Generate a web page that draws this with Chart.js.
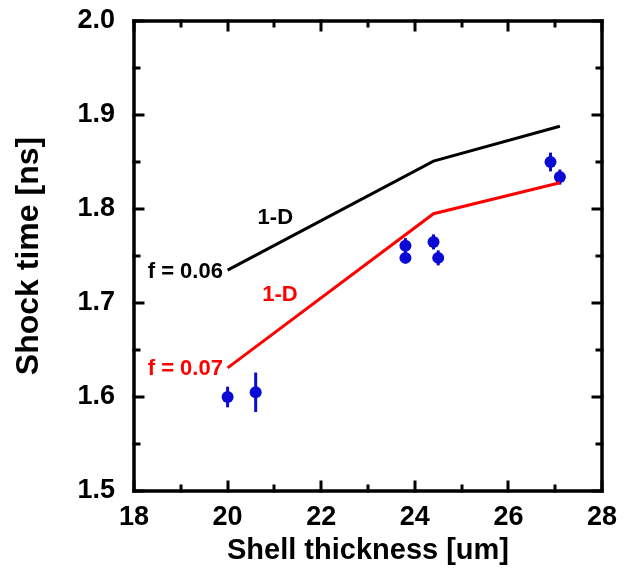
<!DOCTYPE html>
<html>
<head>
<meta charset="utf-8">
<script src="https://cdn.jsdelivr.net/npm/chart.js@4.4.0/dist/chart.umd.min.js"></script>
<style>
  html, body { margin: 0; padding: 0; background: #fff; }
  #chart { display: block; }
</style>
</head>
<body>
<canvas id="chart" width="626" height="577"></canvas>
<script>
// measured shock times
const thickness = [20.0, 20.6, 23.8, 23.8, 24.4, 24.5, 26.9, 27.1];
const shockTime = [1.600, 1.605, 1.761, 1.748, 1.765, 1.748, 1.850, 1.834];
const shockErr = [0.011, 0.021, 0.008, 0.005, 0.008, 0.008, 0.010, 0.008];

// 1-D simulations
const modelThickness = [20.0, 24.4, 27.1];
const model006 = [1.735, 1.851, 1.888];
const model007 = [1.631, 1.795, 1.828];

const xTicks = [18, 20, 22, 24, 26, 28];
const yTicks = [1.5, 1.6, 1.7, 1.8, 1.9, 2.0];

const FONT = '"Liberation Sans", Arial, sans-serif';
const BLUE = '#0a0ad4';

const toPts = (xs, ys) => xs.map((x, i) => ({ x: x, y: ys[i] }));

// error bars, drawn under the markers
const errorBars = {
  id: 'errorBars',
  beforeDatasetsDraw(chart) {
    const { ctx, scales: { x, y } } = chart;
    ctx.save();
    ctx.strokeStyle = BLUE;
    ctx.lineWidth = 3;
    thickness.forEach((t, i) => {
      const px = x.getPixelForValue(t);
      ctx.beginPath();
      ctx.moveTo(px, y.getPixelForValue(shockTime[i] - shockErr[i]));
      ctx.lineTo(px, y.getPixelForValue(shockTime[i] + shockErr[i]));
      ctx.stroke();
    });
    ctx.restore();
  }
};

// box frame with inward ticks on every side, plus text labels
const frame = {
  id: 'frame',
  afterDraw(chart) {
    const { ctx, chartArea: a, scales: { x, y } } = chart;
    ctx.save();
    ctx.strokeStyle = '#000';
    ctx.lineWidth = 3;
    ctx.lineCap = 'square';
    for (let v = 18; v <= 28; v += 1) {
      const px = Math.round(x.getPixelForValue(v));
      const len = v % 2 === 0 ? 9 : 5;
      ctx.beginPath();
      ctx.moveTo(px, a.bottom); ctx.lineTo(px, a.bottom - len);
      ctx.moveTo(px, a.top); ctx.lineTo(px, a.top + len);
      ctx.stroke();
    }
    for (let k = 0; k <= 10; k++) {
      const v = 1.5 + k * 0.05;
      const py = Math.round(y.getPixelForValue(v));
      const len = k % 2 === 0 ? 9 : 5;
      ctx.beginPath();
      ctx.moveTo(a.left, py); ctx.lineTo(a.left + len, py);
      ctx.moveTo(a.right, py); ctx.lineTo(a.right - len, py);
      ctx.stroke();
    }
    ctx.lineWidth = 3.5;
    ctx.strokeRect(a.left, a.top, a.right - a.left, a.bottom - a.top);

    const labels = [
      { text: '1-D', x: 21.02, y: 1.791, color: '#000', align: 'center' },
      { text: 'f = 0.06', x: 19.9, y: 1.733, color: '#000', align: 'right' },
      { text: '1-D', x: 21.12, y: 1.709, color: '#ff0000', align: 'center' },
      { text: 'f = 0.07', x: 19.9, y: 1.630, color: '#ff0000', align: 'right' }
    ];
    ctx.font = 'bold 22px ' + FONT;
    ctx.textBaseline = 'middle';
    labels.forEach(l => {
      ctx.fillStyle = l.color;
      ctx.textAlign = l.align;
      ctx.fillText(l.text, x.getPixelForValue(l.x), y.getPixelForValue(l.y));
    });
    ctx.restore();
  }
};

new Chart(document.getElementById('chart'), {
  type: 'scatter',
  data: {
    datasets: [
      {
        label: 'f = 0.06',
        data: toPts(modelThickness, model006),
        showLine: true,
        borderColor: '#000',
        borderWidth: 3,
        pointRadius: 0
      },
      {
        label: 'f = 0.07',
        data: toPts(modelThickness, model007),
        showLine: true,
        borderColor: '#ff0000',
        borderWidth: 3,
        pointRadius: 0
      },
      {
        label: 'data',
        data: toPts(thickness, shockTime),
        backgroundColor: BLUE,
        borderColor: BLUE,
        borderWidth: 0,
        pointRadius: 6
      }
    ]
  },
  options: {
    responsive: false,
    animation: false,
    devicePixelRatio: 1,
    layout: { padding: { top: 21, right: 24, left: 0, bottom: 0 } },
    plugins: { legend: { display: false }, tooltip: { enabled: false } },
    scales: {
      x: {
        type: 'linear',
        min: 18,
        max: 28,
        afterBuildTicks: s => { s.ticks = xTicks.map(v => ({ value: v })); },
        afterFit: s => { s.height = 86; s.paddingLeft = 0; s.paddingRight = 0; },
        grid: { display: false, drawTicks: false },
        border: { display: false },
        ticks: { color: '#000', padding: 10, font: { family: FONT, size: 27, weight: 'bold' } },
        title: {
          display: true,
          text: 'Shell thickness [um]',
          color: '#000',
          font: { family: FONT, size: 29, weight: 'bold' },
          padding: { top: 0, bottom: 9 }
        }
      },
      y: {
        type: 'linear',
        min: 1.5,
        max: 2.0,
        afterBuildTicks: s => { s.ticks = yTicks.map(v => ({ value: v })); },
        afterFit: s => { s.width = 134; s.paddingTop = 0; s.paddingBottom = 0; },
        grid: { display: false, drawTicks: false },
        border: { display: false },
        ticks: {
          color: '#000',
          padding: 19,
          font: { family: FONT, size: 27, weight: 'bold' },
          callback: v => v.toFixed(1)
        },
        title: {
          display: true,
          text: 'Shock time [ns]',
          color: '#000',
          font: { family: FONT, size: 32, weight: 'bold' },
          padding: { top: 10, bottom: 0 }
        }
      }
    }
  },
  plugins: [errorBars, frame]
});
</script>
</body>
</html>
